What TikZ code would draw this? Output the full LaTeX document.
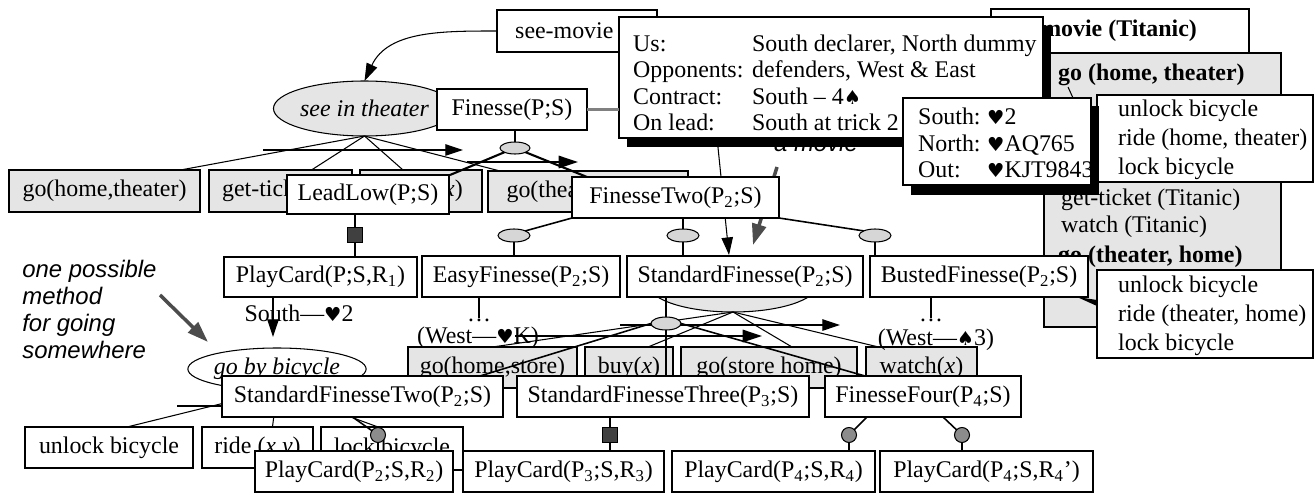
\documentclass[tikz,border=0pt]{standalone}
\usepackage{fontspec}
\setmainfont{Liberation Serif}
\newfontfamily\notefont{Liberation Sans}
\newfontfamily\suitfont{DejaVu Sans}
\usetikzlibrary{positioning,shapes.geometric,arrows.meta,calc}

\definecolor{taskgray}{gray}{0.9}
\definecolor{knobgray}{gray}{0.84}
\definecolor{pingray}{gray}{0.55}
\definecolor{sqgray}{gray}{0.25}
\definecolor{notegray}{gray}{0.3}

\newcommand{\tsz}{\fontsize{13.6}{15}\selectfont}
\newcommand{\hrt}{{\suitfont\fontsize{11}{11}\selectfont ♥}}
\newcommand{\spd}{{\suitfont\fontsize{11}{11}\selectfont ♠}}
% box from corner (x1,y1) to (x2,y2), in pixels of the picture
\newcommand{\placebox}[7]{\node[#1, minimum width={(#5-(#3))*0.02cm}, minimum height={(#6-(#4))*0.02cm}] (#2) at ({(#3+#5)/2},{(#4+#6)/2}) {#7};}

\tikzset{
  every node/.style={font=\tsz},
  task/.style={draw, fill=white, inner sep=0pt, outer sep=0pt, line width=0.6pt},
  prim/.style={task, fill=taskgray},
  card/.style={task, line width=1.4pt},
  oval/.style={ellipse, draw, fill=white, inner sep=0pt, outer sep=0pt, line width=0.6pt},
  knob/.style={oval, fill=knobgray},
  pin/.style={circle, draw, fill=pingray, inner sep=0pt, outer sep=0pt, minimum size=0.3cm, line width=0.6pt},
  sq/.style={draw, fill=sqgray, inner sep=0pt, outer sep=0pt, minimum size=0.3cm, line width=0.6pt},
  tline/.style={line width=0.6pt},
  bline/.style={line width=0.9pt},
  tarrow/.style={tline, -{Triangle[length=10pt,width=6.5pt]}},
  barrow/.style={line width=1.2pt, -{Triangle[length=11pt,width=7pt]}},
  notearrow/.style={notegray, line width=2pt, -{Triangle[length=12pt,width=8pt]}},
  note/.style={font=\notefont\itshape\fontsize{13.6}{15.3}\selectfont, align=left, inner sep=0pt},
  shadow/.style={fill=black},
}

\begin{document}
\begin{tikzpicture}[x=0.02cm,y=-0.02cm]
\useasboundingbox (0,0) rectangle (1314,493);

% ---- travel network (behind)
\placebox{task}{seemovie}{497}{10}{657}{52}{}
\node[anchor=west] (seemovietxt) at (509,31) {see-movie};
\placebox{oval, fill=taskgray, font=\tsz\itshape}{intheater}{289}{81}{440}{136}{see in theater}
\draw[tarrow] (seemovie.west) to[out=180,in=65] (intheater.north);

\placebox{prim}{gohome}{9}{170}{200}{212}{go(home,theater)}
\placebox{prim}{getticket}{209}{170}{352}{212}{get-ticket(\textit{x})}
\placebox{prim}{watchx}{360}{170}{482}{212}{watch(\textit{x})}
\placebox{prim}{gotheater}{488}{171}{688}{212}{go(theater,home)}
\foreach \tsk/\dx in {gohome/76, getticket/31, watchx/-18, gotheater/-88}
  \draw[tline] (intheater.south) -- ($(\tsk.north)+(\dx,0)$);
\coordinate (ordA) at (263,150);
\coordinate (ordB) at (463,150);
\draw[tarrow] (ordA) -- (ordB);

\placebox{task}{titanic}{991}{9}{1249}{53}{}
\node[anchor=east, font=\tsz\bfseries] (titanictxt) at (1203,31) {see-movie (Titanic)};
\placebox{prim}{plan}{1044}{53}{1281}{327}{}
\node[anchor=west, font=\tsz\bfseries] (plan1) at (1052,75) {go (home, theater)};
\node[anchor=west] (plan2) at (1055,200) {get-ticket (Titanic)};
\node[anchor=west] (plan3) at (1055,227) {watch (Titanic)};
\node[anchor=west, font=\tsz\bfseries] (plan4) at (1052,257) {go (theater, home)};
\placebox{task}{rideA}{1097}{95}{1313}{182}{}
\node[anchor=west, align=left, font=\fontsize{13.6}{16.4}\selectfont] (rideAtxt) at (1112,140) {unlock bicycle\\ride (home, theater)\\lock bicycle};
\placebox{task}{rideB}{1097}{270}{1313}{358}{}
\node[anchor=west, align=left, font=\fontsize{13.6}{16.4}\selectfont] (rideBtxt) at (1112,316) {unlock bicycle\\ride (theater, home)\\lock bicycle};
\draw[tline] ($(rideA.north west)+(-29,-8)$) -- ($(rideA.north west)+(-24,3)$);
\fill ($(rideB.north west)+(-20,27)$) -- ($(rideB.north west)+(0,30)$) -- ($(rideB.north west)+(0,36)$) -- cycle;

\placebox{oval, fill=taskgray}{shop}{649}{258}{817}{312}{}
\placebox{prim}{gohs}{408}{347}{577}{388}{go(home,store)}
\placebox{prim}{buy}{585}{347}{673}{388}{buy(\textit{x})}
\placebox{prim}{gosh}{681}{347}{857}{388}{go(store home)}
\placebox{prim}{watchy}{866}{347}{977}{388}{watch(\textit{x})}
\foreach \tsk/\dx in {gohs/0, buy/19, gosh/23, watchy/-43}
  \draw[tline] (shop.south) -- ($(\tsk.north)+(\dx,0)$);
\coordinate (ordC) at (620,325);
\coordinate (ordD) at (840,325);
\draw[tarrow] (ordC) -- (ordD);
\coordinate (movietop) at (716,128);
\coordinate (movieend) at (729,255);
\draw[tarrow] (movietop) -- (movieend);

\coordinate (bikein) at (273,262);
\coordinate (bikeend) at (273,337);
\draw[tarrow] (bikein) -- (bikeend);
\placebox{oval, font=\tsz\itshape}{gobike}{193}{348}{361}{390}{go by bicycle}
\placebox{task}{unlock}{25}{427}{193}{468}{unlock bicycle}
\placebox{task}{ride}{202}{427}{313}{468}{ride (\textit{x,y})}
\placebox{task}{lock}{321}{427}{463}{470}{lock bicycle}
\foreach \tsk/\dx in {unlock/18, ride/15, lock/-14}
  \draw[tline] (gobike.south) -- ($(\tsk.north)+(\dx,0)$);
\coordinate (ordE) at (177,406);
\coordinate (ordF) at (330,406);
\draw[tarrow] (ordE) -- (ordF);

\node[note, anchor=north west] (onepossible) at (22,260) {one possible\\method\\for going\\somewhere};
\coordinate (noteA) at (160,295);
\coordinate (noteB) at (208,342);
\draw[notearrow] (noteA) -- (noteB);
\node[note] (amovie) at (816,143) {a movie};
\coordinate (movA) at (777,167);
\coordinate (movB) at (753,245);
\draw[notearrow] (movA) -- (movB);

% ---- bridge network (front)
\fill[shadow] (627,26) rectangle (1051,147);
\placebox{task, line width=1pt}{contract}{619}{17}{1043}{138}{}
\node[anchor=west, align=left] (contracttxt) at (627,83) {\makebox[2.38cm][l]{Us:}South declarer, North dummy\\\makebox[2.38cm][l]{Opponents:}defenders, West \& East\\\makebox[2.38cm][l]{Contract:}South -- 4\spd\\\makebox[2.38cm][l]{On lead:}South at trick 2};
\fill[shadow] (911,106) rectangle (1099,195);
\placebox{task, line width=1pt}{hand}{903}{98}{1091}{185}{}
\node[anchor=west, align=left] (handtxt) at (912,143) {\makebox[1.38cm][l]{South:}\hrt 2\\\makebox[1.38cm][l]{North:}\hrt AQ765\\\makebox[1.38cm][l]{Out:}\hrt KJT9843};

\placebox{task}{finesse}{437}{89}{587}{130}{Finesse(P;S)}
\draw[gray, line width=1.2pt] (finesse.east) -- (finesse.east -| contract.west);
\placebox{knob}{kA}{500}{142}{530}{154}{}
\draw[bline] (kA |- finesse.south) -- (kA);
\placebox{task}{leadlow}{287}{175}{449}{214}{LeadLow(P;S)}
\placebox{task}{ftwo}{572}{177}{779}{218}{FinesseTwo(P\textsubscript{2};S)}
\draw[line width=1.2pt] (kA.south west) -- ($(leadlow.north east)+(1,0)$);
\draw[line width=1.2pt] (kA.south east) -- ($(ftwo.north west)+(15,0)$);
\coordinate (ordG) at (467,162);
\coordinate (ordH) at (578,162);
\draw[barrow] (ordG) -- (ordH);

\node[sq] (sqA) at (355,235) {};
\placebox{card}{pcA}{224}{257}{417}{297}{PlayCard(P;S,R\textsubscript{1})}
\draw[bline] (sqA |- leadlow.south) -- (sqA) -- (sqA |- pcA.north);
\node (southlead) at (299,313) {South---\hrt 2};

\placebox{knob}{kB}{498}{229}{530}{242}{}
\placebox{knob}{kC}{667}{229}{699}{242}{}
\placebox{knob}{kD}{859}{229}{891}{242}{}
\draw[bline] (ftwo.south west) -- (kB.north east);
\draw[bline] (kC |- ftwo.south) -- (kC);
\draw[bline] (ftwo.south east) -- (kD.north west);
\placebox{task}{easy}{422}{256}{620}{297}{EasyFinesse(P\textsubscript{2};S)}
\placebox{task}{std}{627}{256}{863}{297}{StandardFinesse(P\textsubscript{2};S)}
\placebox{task}{busted}{870}{256}{1088}{297}{BustedFinesse(P\textsubscript{2};S)}
\foreach \k/\b in {kB/easy, kC/std, kD/busted}
  \draw[bline] (\k) -- (\k |- \b.north);

\node[inner sep=0pt] (dotsA) at (479,320) {\ldots};
\draw[tline] (dotsA |- easy.south) -- (dotsA.north);
\node (westK) at (478,338) {(West---\hrt K)};
\node[inner sep=0pt] (dotsB) at (931,320) {\ldots};
\draw[tline] (dotsB |- busted.south) -- (dotsB.north);
\node (westS) at (936,340) {(West---\spd 3)};

\placebox{knob}{kE}{651}{317}{681}{330}{}
\draw[bline] (kE |- std.south) -- (kE);
\placebox{task}{sftwo}{222}{376}{503}{417}{StandardFinesseTwo(P\textsubscript{2};S)}
\placebox{task}{sfthree}{517}{376}{809}{417}{StandardFinesseThree(P\textsubscript{3};S)}
\placebox{task}{ffour}{825}{376}{1021}{417}{FinesseFour(P\textsubscript{4};S)}
\draw[bline] (kE.west) -- ($(sftwo.north east)+(-23,0)$);
\draw[bline] (kE) -- (kE |- sfthree.north);
\draw[bline] (kE.east) -- ($(ffour.north west)+(40,0)$);
\coordinate (ordI) at (515,336);
\coordinate (ordJ) at (762,336);
\draw[barrow] (ordI) -- (ordJ);

\node[pin] (pinA) at (378,435) {};
\node[sq] (sqB) at (610,435) {};
\node[pin] (pinB) at (849,435) {};
\node[pin] (pinC) at (962,435) {};
\placebox{card}{pcB}{255}{451}{453}{492}{PlayCard(P\textsubscript{2};S,R\textsubscript{2})}
\placebox{card}{pcC}{463}{451}{664}{492}{PlayCard(P\textsubscript{3};S,R\textsubscript{3})}
\placebox{card}{pcD}{672}{451}{875}{492}{PlayCard(P\textsubscript{4};S,R\textsubscript{4})}
\placebox{card}{pcE}{880}{451}{1093}{492}{PlayCard(P\textsubscript{4};S,R\textsubscript{4}’)}
\draw[bline] ($(sftwo.south)+(-10,0)$) -- (pinA) -- (pinA |- pcB.north);
\draw[bline] (sqB |- sfthree.south) -- (sqB) -- (sqB |- pcC.north);
\draw[bline] ($(ffour.south)+(-56,0)$) -- (pinB) -- (pinB |- pcD.north);
\draw[bline] ($(ffour.south)+(20,0)$) -- (pinC) -- (pinC |- pcE.north);
\end{tikzpicture}
\end{document}
